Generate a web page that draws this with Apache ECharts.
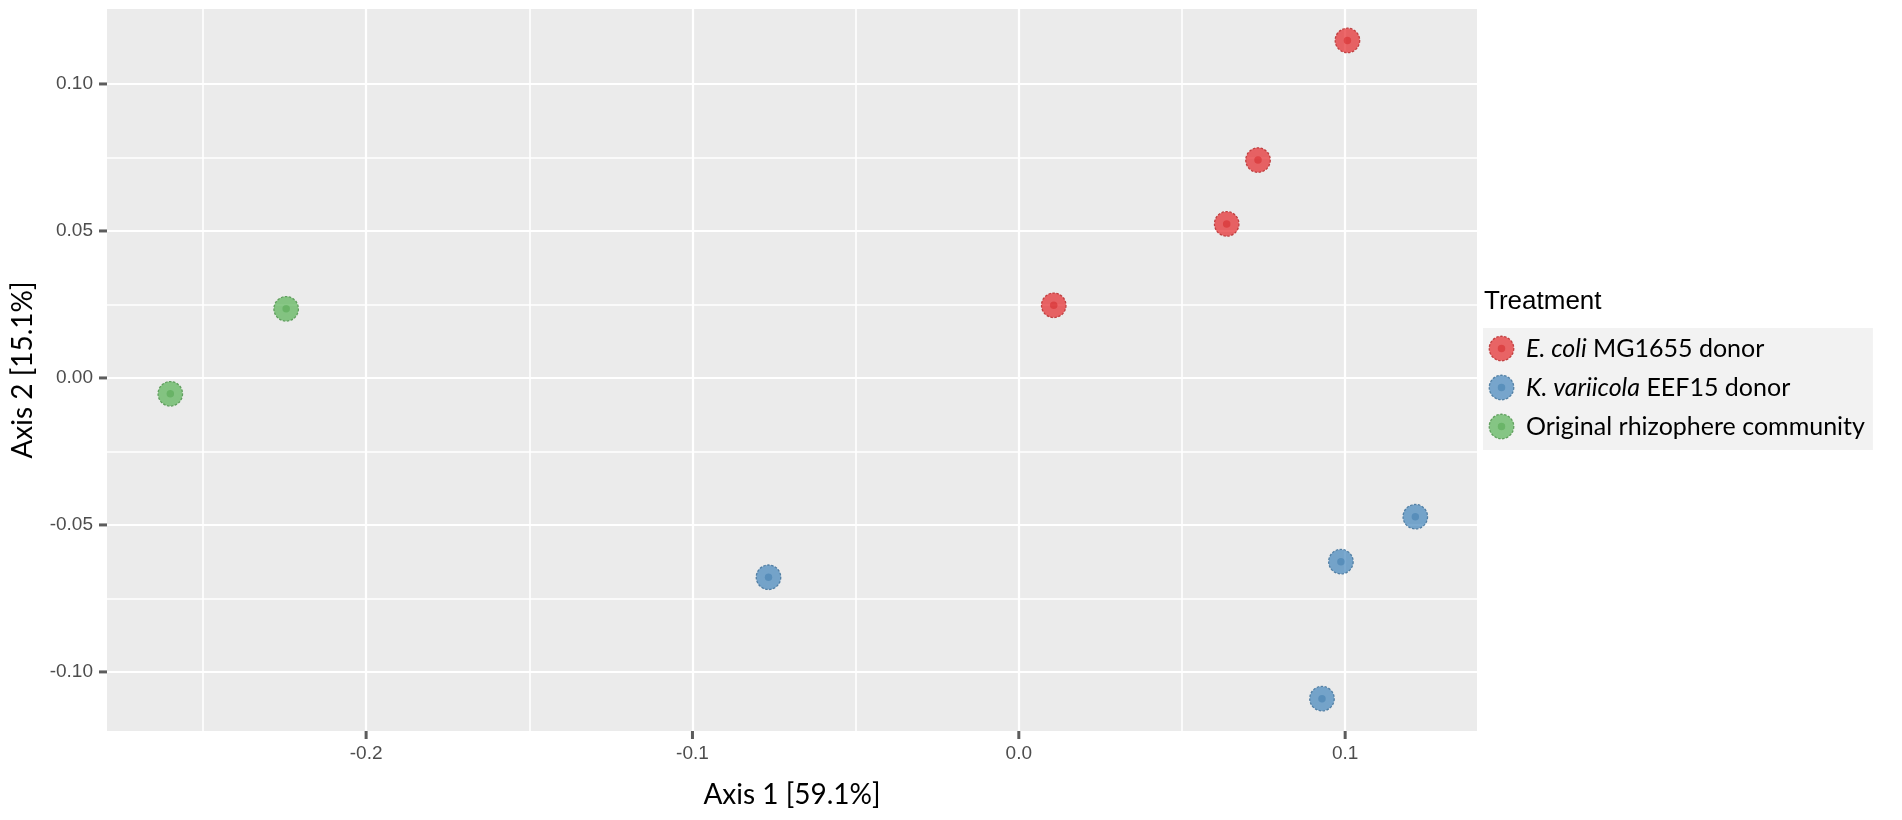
<!DOCTYPE html>
<html>
<head>
<meta charset="utf-8">
<script src="https://cdn.jsdelivr.net/npm/echarts@6/dist/echarts.min.js"></script>
<style>
html,body{margin:0;padding:0;background:#fff;}
#chart{width:1902px;height:820px;}
</style>
</head>
<body>
<div id="chart"></div>
<script>
// ---- data ----
const groupItalic = ['E. coli', 'K. variicola', ''];
const groupRest = [' MG1655 donor', ' EEF15 donor', 'Original rhizophere community'];
const groupColors = ['#E41A1C', '#377EB8', '#4DAF4A'];

const ecoliX = [0.1007, 0.0733, 0.0637, 0.0107];
const ecoliY = [0.1148, 0.0741, 0.0524, 0.0247];
const kvarX = [0.1215, 0.0987, -0.0767, 0.0929];
const kvarY = [-0.0472, -0.0625, -0.0678, -0.1091];
const origX = [-0.2600, -0.2245];
const origY = [-0.0054, 0.0235];

const xMajorTicks = [-0.2, -0.1, 0.0, 0.1];
const xMinorTicks = [-0.25, -0.15, -0.05, 0.05];
const yMajorTicks = [-0.10, -0.05, 0.00, 0.05, 0.10];
const yMinorTicks = [-0.075, -0.025, 0.025, 0.075];

const xTitle = 'Axis 1 [59.1%]';
const yTitle = 'Axis 2 [15.1%]';
const legendTitle = 'Treatment';

// ---- build ----
const xs = [ecoliX, kvarX, origX];
const ys = [ecoliY, kvarY, origY];
const xMin = -0.2794, xMax = 0.1404, yMin = -0.1201, yMax = 0.1255;

function hexToRgb(h) {
  return [parseInt(h.slice(1,3),16), parseInt(h.slice(3,5),16), parseInt(h.slice(5,7),16)];
}
function darker(h, f) {
  const c = hexToRgb(h).map(v => Math.round(v * f));
  return 'rgb(' + c.join(',') + ')';
}
function markerSymbol(col) {
  const [r,g,b] = hexToRgb(col);
  const svg = '<svg xmlns="http://www.w3.org/2000/svg" width="54" height="54" viewBox="0 0 54 54">' +
    '<circle cx="27" cy="27" r="24.5" fill="rgba(' + r + ',' + g + ',' + b + ',0.82)" stroke="' + darker(col, 0.8) + '" stroke-width="2.6" stroke-dasharray="5 3"/>' +
    '<circle cx="27" cy="27" r="7.5" fill="' + darker(col, 0.95) + '"/>' +
    '</svg>';
  return 'image://data:image/svg+xml;charset=utf-8,' + encodeURIComponent(svg);
}

const names = groupItalic.map((it, i) => it + groupRest[i]);

const series = names.map((nm, i) => ({
  name: nm,
  type: 'scatter',
  xAxisIndex: 0,
  yAxisIndex: 0,
  symbol: markerSymbol(groupColors[i]),
  symbolSize: 27,
  data: xs[i].map((x, k) => [x, ys[i][k]]),
  itemStyle: { color: groupColors[i] },
  emphasis: { disabled: true },
  z: 5
}));

// tick marks placed through the axis scales (outside the panel)
series.push({
  name: 'yTicks', type: 'scatter', xAxisIndex: 0, yAxisIndex: 0,
  symbol: 'rect', symbolSize: [8, 3], symbolOffset: [-4, 0],
  data: yMajorTicks.map(v => [xMin, v]),
  itemStyle: { color: '#333333' }, clip: false, silent: true, z: 6
});
series.push({
  name: 'xTicks', type: 'scatter', xAxisIndex: 0, yAxisIndex: 0,
  symbol: 'rect', symbolSize: [3, 8], symbolOffset: [0, 4],
  data: xMajorTicks.map(v => [v, yMin]),
  itemStyle: { color: '#333333' }, clip: false, silent: true, z: 6
});

const tickFont = { fontFamily: 'Liberation Sans, Arial, sans-serif', fontSize: 19, color: '#4D4D4D' };
const titleFont = { fontFamily: 'Lato, Carlito, Calibri, sans-serif', fontSize: 28, color: '#000' };

const option = {
  animation: false,
  backgroundColor: '#ffffff',
  grid: { left: 107, right: 1902 - 1477, top: 9, bottom: 820 - 731, backgroundColor: '#EBEBEB', show: true, borderWidth: 0, outerBoundsMode: 'none' },
  xAxis: [
    {
      type: 'value', min: xMin, max: xMax, gridIndex: 0, position: 'bottom',
      axisLine: { show: false, onZero: false },
      axisTick: { show: false, customValues: xMajorTicks },
      axisLabel: { customValues: xMajorTicks, margin: 13, formatter: v => v.toFixed(1), ...tickFont },
      splitLine: { show: true, lineStyle: { color: '#fff', width: 2.2 } },
      name: xTitle, nameLocation: 'middle', nameGap: 50, nameTextStyle: titleFont,
      z: 3
    },
    {
      type: 'value', min: xMin, max: xMax, gridIndex: 0, position: 'top',
      axisLine: { show: false, onZero: false },
      axisTick: { show: false, customValues: xMinorTicks },
      axisLabel: { show: false, customValues: xMinorTicks },
      splitLine: { show: true, lineStyle: { color: '#fff', width: 1.6 } },
      z: 2
    }
  ],
  yAxis: [
    {
      type: 'value', min: yMin, max: yMax, gridIndex: 0, position: 'left',
      axisLine: { show: false, onZero: false },
      axisTick: { show: false, customValues: yMajorTicks },
      axisLabel: { customValues: yMajorTicks, margin: 14, formatter: v => v.toFixed(2), ...tickFont },
      splitLine: { show: true, lineStyle: { color: '#fff', width: 2.2 } },
      name: yTitle, nameLocation: 'middle', nameGap: 70, nameRotate: 90, nameTextStyle: titleFont,
      z: 3
    },
    {
      type: 'value', min: yMin, max: yMax, gridIndex: 0, position: 'right',
      axisLine: { show: false, onZero: false },
      axisTick: { show: false, customValues: yMinorTicks },
      axisLabel: { show: false, customValues: yMinorTicks },
      splitLine: { show: true, lineStyle: { color: '#fff', width: 1.6 } },
      z: 2
    }
  ],
  title: {
    text: legendTitle, left: 1484, top: 289, padding: 0,
    textStyle: { fontFamily: 'Liberation Sans, Arial, sans-serif', fontSize: 26, fontWeight: 'normal', color: '#000' }
  },
  legend: {
    orient: 'vertical', left: 1483, top: 328,
    padding: [7, 8, 10, 5],
    backgroundColor: '#F2F2F2',
    itemWidth: 27, itemHeight: 27, itemGap: 12,
    selectedMode: false,
    data: names,
    formatter: function (name) {
      const i = names.indexOf(name);
      return groupItalic[i] ? '{i|' + groupItalic[i] + '}{r|' + groupRest[i] + '}' : '{r|' + groupRest[i] + '}';
    },
    textStyle: {
      padding: [0, 0, 0, 6],
      rich: {
        i: { fontFamily: 'Lato, Carlito, sans-serif', fontSize: 25, fontStyle: 'italic', color: '#000' },
        r: { fontFamily: 'Lato, Carlito, sans-serif', fontSize: 25, color: '#000' }
      }
    }
  },
  series: series
};

const chart = echarts.init(document.getElementById('chart'), null, { renderer: 'canvas' });
chart.setOption(option);
</script>
</body>
</html>
